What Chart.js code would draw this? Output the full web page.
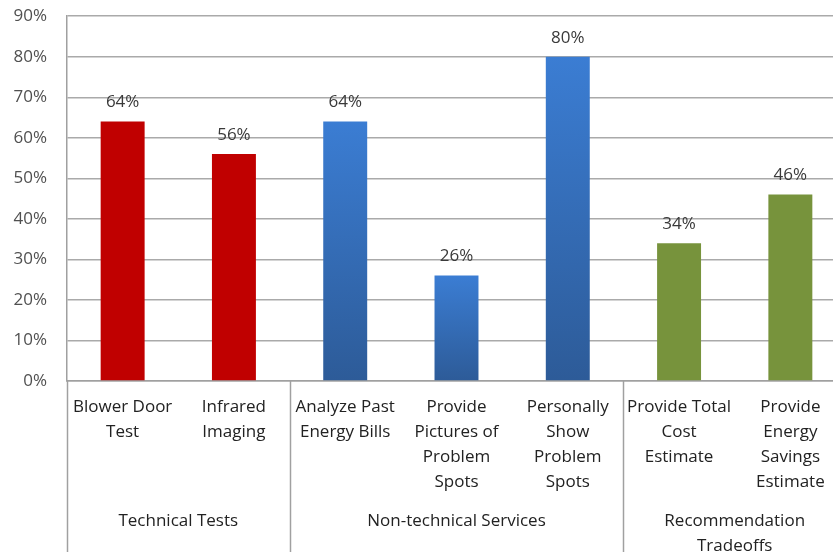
<!DOCTYPE html>
<html><head><meta charset="utf-8">
<script src="https://cdn.jsdelivr.net/npm/chart.js@4/dist/chart.umd.min.js"></script>
<style>
html,body{margin:0;padding:0;overflow:hidden;background:#fff;width:833px;height:552px}
#wrap{position:absolute;left:0;top:0;width:846px;height:552px}
</style>
</head><body><div id="wrap"><canvas id="c"></canvas></div>
<script>
const categories = [
  ["Blower Door","Test"],
  ["Infrared","Imaging"],
  ["Analyze Past","Energy Bills"],
  ["Provide","Pictures of","Problem","Spots"],
  ["Personally","Show","Problem","Spots"],
  ["Provide Total","Cost","Estimate"],
  ["Provide","Energy","Savings","Estimate"]
];
const values = [64, 56, 64, 26, 80, 34, 46];
const groupOf = [0, 0, 1, 1, 1, 2, 2];
const groupNames = [["Technical Tests"], ["Non-technical Services"], ["Recommendation","Tradeoffs"]];
const groupStarts = [0, 2, 5];
const groupEnds = [1, 4, 6];
const yMax = 90;
const yStep = 10;

const FONT = '"Open Sans", "DejaVu Sans", sans-serif';
const FS = 17;

const extras = {
  id: 'extras',
  afterDraw(chart) {
    const ctx = chart.ctx, xs = chart.scales.x, area = chart.chartArea;
    const half = (xs.getPixelForValue(1) - xs.getPixelForValue(0)) / 2;
    ctx.save();
    ctx.strokeStyle = '#a0a0a0';
    ctx.lineWidth = 1.5;
    groupStarts.forEach(s => {
      const px = Math.round(xs.getPixelForValue(s) - half) + 0.5;
      ctx.beginPath();
      ctx.moveTo(px, area.bottom);
      ctx.lineTo(px, chart.height);
      ctx.stroke();
    });
    ctx.font = FS + 'px ' + FONT;
    ctx.fillStyle = '#222222';
    ctx.textAlign = 'center';
    ctx.textBaseline = 'middle';
    groupNames.forEach((lines, g) => {
      const cx = (xs.getPixelForValue(groupStarts[g]) + xs.getPixelForValue(groupEnds[g])) / 2;
      lines.forEach((t, i) => ctx.fillText(t, cx, area.bottom + 140 + i * 25));
    });
    const meta = chart.getDatasetMeta(0);
    ctx.fillStyle = '#3a3a3a';
    meta.data.forEach((bar, i) => {
      ctx.fillText(values[i] + '%', bar.x, bar.y - 19);
    });
    ctx.restore();
  }
};

new Chart(document.getElementById('c'), {
  type: 'bar',
  data: {
    labels: categories,
    datasets: [{
      data: values,
      barPercentage: 0.395,
      categoryPercentage: 1,
      borderWidth: 0,
      backgroundColor: (c) => {
        const g = groupOf[c.dataIndex];
        if (g === 0) return '#C00000';
        if (g === 2) return '#77933C';
        const chart = c.chart;
        if (!chart.chartArea) return '#3570bb';
        const ys = chart.scales.y;
        const top = ys.getPixelForValue(values[c.dataIndex]);
        const bot = ys.getPixelForValue(0);
        const gr = chart.ctx.createLinearGradient(0, top, 0, bot);
        gr.addColorStop(0, '#3b7dd3');
        gr.addColorStop(1, '#2d5b98');
        return gr;
      }
    }]
  },
  options: {
    responsive: true,
    maintainAspectRatio: false,
    animation: false,
    devicePixelRatio: 1,
    layout: { padding: { top: 0, left: 0, right: 0, bottom: 0 } },
    plugins: { legend: { display: false }, tooltip: { enabled: false } },
    scales: {
      y: {
        min: 0, max: yMax,
        ticks: {
          stepSize: yStep,
          callback: v => v + '%',
          font: { family: FONT, size: FS, lineHeight: 1.2 },
          color: '#505050',
          padding: 6
        },
        grid: { color: '#aaaaaa', drawTicks: true, tickLength: 14, tickColor: 'rgba(0,0,0,0)', lineWidth: 1.5 },
        border: { display: true, color: '#a0a0a0', width: 1.5 },
        afterFit: s => { s.width = 67; }
      },
      x: {
        ticks: {
          font: { family: FONT, size: FS, lineHeight: '25px' },
          color: '#222222',
          maxRotation: 0, minRotation: 0,
          autoSkip: false,
          padding: 14
        },
        grid: { display: false, drawTicks: false },
        border: { display: true, color: '#a0a0a0', width: 1.5 },
        afterFit: s => { s.height = 171; }
      }
    }
  },
  plugins: [extras]
});
</script>
</body></html>
